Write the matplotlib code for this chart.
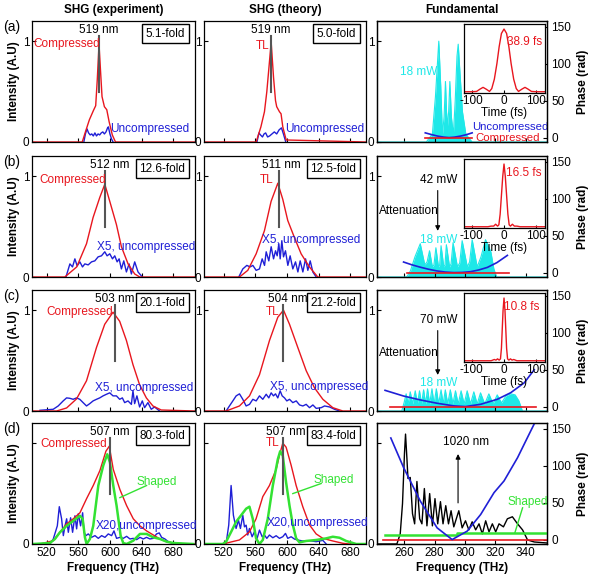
import numpy as np
import matplotlib.pyplot as plt

plt.rcParams['font.family'] = ['Liberation Sans', 'DejaVu Sans']
plt.rcParams['font.size'] = 8.5
plt.rcParams['axes.unicode_minus'] = False
plt.rcParams['xtick.direction'] = 'in'
plt.rcParams['ytick.direction'] = 'in'
plt.rcParams['axes.linewidth'] = 0.9

RED = '#e8161e'
BLUE = '#1f1fd6'
GREEN = '#33e233'
CYAN = '#1ee8e8'
GRAY = '#555555'

#====== SHG (experiment): compressed / uncompressed / shaped spectra ======
exp_comp_f = [
    [501, 565, 569, 574, 579, 582, 584, 586.2, 588, 590, 593, 596, 599, 603, 607, 707],
    [501, 543, 558, 570.4, 578.7, 587.2, 593.5, 599.8, 608.2, 614.5, 622.9, 631.3, 637.6, 707],
    [501, 532.6, 545.2, 557.8, 570.4, 583, 593.4, 603.9, 612.3, 620.8, 629.1, 637.5, 646, 654.3, 664.8, 707],
    [501, 511.6, 528.4, 536.8, 545.3, 553.7, 562.1, 570.5, 578.9, 587.4, 594.9, 599.2, 604.2, 612.6,
     621.1, 629.5, 637.9, 646.3, 654.7, 663.2, 671.6, 680, 696.8, 707]]
exp_comp_v = [
    [0, 0, 0.1, 0.22, 0.31, 0.36, 0.62, 0.97, 0.72, 0.45, 0.35, 0.32, 0.2, 0.07, 0, 0],
    [0, 0, 0.1, 0.33, 0.59, 0.79, 0.92, 0.75, 0.52, 0.3, 0.13, 0.03, 0, 0],
    [0, 0, 0.03, 0.12, 0.3, 0.63, 0.86, 0.98, 0.89, 0.7, 0.46, 0.26, 0.13, 0.05, 0.01, 0],
    [0, 0, 0.033, 0.116, 0.2, 0.25, 0.31, 0.45, 0.58, 0.73, 0.92, 0.97, 0.74, 0.54,
     0.38, 0.25, 0.18, 0.13, 0.09, 0.05, 0.023, 0.01, 0, 0]]
exp_unc_f = [
    [567, 569, 571, 573, 575, 577, 579, 581, 583, 585, 587, 589, 591, 593, 595, 597, 598, 600, 602, 604],
    [544.4, 549.4, 552.7, 555.7, 558.6, 562, 565.3, 568.3, 572.5, 576.7, 580.9, 585.1, 589.3, 593.5,
     596.4, 599.8, 603.2, 606.1, 609.1, 611.6, 614.5, 617.5, 620.8, 624.2, 627.1, 631.3, 635.5, 641],
    [511.6, 528.3, 534.6, 540.9, 545.2, 549.3, 553.5, 557.8, 561.9, 566.1, 570.4, 574.5, 578.7, 583,
     587.1, 591.3, 595.6, 599.7, 603.9, 608.2, 612.3, 615.7, 618.6, 622.8, 627.1, 629.1, 631.2, 634.1,
     637.5, 640.9, 643.8, 648, 652.2, 656.4, 662.7],
    [524.2, 528.4, 533.5, 536, 538.9, 541.1, 543.2, 545.3, 547.4, 550.3, 552.8, 555.8, 557.9, 560,
     562.9, 565.5, 567.2, 569.7, 572.6, 576.8, 581.1, 585.3, 589.5, 593.7, 597.9, 602.1, 605.1, 608.4,
     612.6, 616.8, 621.1, 625.3, 629.5, 633.7, 637.9, 642.1, 646.3, 650.5, 654.7, 658.9, 662.3, 665.3,
     669.5, 673.7, 677.9, 680]]
exp_unc_v = [
    [0, 0.08, 0.13, 0.09, 0.07, 0.08, 0.06, 0.09, 0.06, 0.08, 0.07, 0.09, 0.1, 0.08, 0.1, 0.14, 0.15, 0.08, 0.03, 0],
    [0, 0.13, 0.1, 0.18, 0.11, 0.15, 0.1, 0.13, 0.12, 0.15, 0.16, 0.2, 0.21, 0.25,
     0.21, 0.23, 0.18, 0.21, 0.15, 0.18, 0.08, 0.16, 0.05, 0.13, 0.03, 0.15, 0.05, 0],
    [0.007, 0.017, 0.05, 0.1, 0.13, 0.126, 0.116, 0.13, 0.116, 0.083, 0.05, 0.073, 0.1, 0.116,
     0.13, 0.15, 0.166, 0.18, 0.15, 0.15, 0.116, 0.13, 0.083, 0.1, 0.066, 0.2, 0.073, 0.15,
     0.04, 0.1, 0.033, 0.083, 0.017, 0.04, 0],
    [0, 0.05, 0.18, 0.37, 0.25, 0.083, 0.18, 0.25, 0.116, 0.26, 0.116, 0.28, 0.15, 0.3,
     0.18, 0.31, 0.116, 0.083, 0.1, 0.066, 0.083, 0.056, 0.083, 0.066, 0.1, 0.083, 0.13, 0.056,
     0.066, 0.056, 0.076, 0.05, 0.056, 0.043, 0.066, 0.05, 0.066, 0.05, 0.056, 0.1, 0.11, 0.066,
     0.05, 0.023, 0.01, 0]]
exp_shaped_f = [503.2, 524.2, 530.5, 536.8, 545.3, 553.7, 562.1, 565.5, 568.4, 570.5, 574.7, 578.9,
                585.3, 591.6, 596.6, 600, 604.2, 608.4, 613.5, 616.8, 621.1, 629.5, 637.9, 646.3,
                654.7, 663.2, 671.6, 680, 705.3]
exp_shaped_v = [0, 0.01, 0.05, 0.116, 0.18, 0.23, 0.28, 0.25, 0.066, 0, 0.05, 0.18,
                0.58, 0.78, 0.89, 0.81, 0.58, 0.38, 0.083, 0.01, 0, 0.033, 0.1, 0.1,
                0.066, 0.05, 0.023, 0.01, 0]

#====== SHG (theory) ======
th_tl_f = [
    [495, 561, 567, 571.5, 574.5, 580, 583, 585.5, 587, 590.5, 592.5, 594.7, 599, 700],
    [495, 539.9, 550.4, 561, 571.5, 579.9, 588.4, 594.7, 601, 609.5, 617.9, 628.4, 639, 700],
    [495, 523, 539.9, 552.6, 565.2, 577.9, 588.4, 595.6, 603.2, 613.7, 624.3, 634.8, 645.4, 658, 670.7, 700],
    [495, 518.7, 539.8, 552.5, 560.9, 569.4, 577.8, 586.3, 590.5, 594.7, 598.9, 605.3, 611.6, 620,
     628.5, 636.9, 645.4, 658, 670.7, 679.1, 700]]
th_tl_v = [
    [0, 0, 0.15, 0.3, 0.5, 0.99, 0.64, 0.41, 0.35, 0.3, 0.28, 0.15, 0.02, 0],
    [0, 0, 0.066, 0.23, 0.46, 0.75, 0.93, 0.77, 0.56, 0.39, 0.23, 0.1, 0, 0],
    [0, 0, 0.05, 0.15, 0.36, 0.7, 0.93, 1.0, 0.86, 0.63, 0.4, 0.23, 0.116, 0.033, 0, 0],
    [0, 0, 0.04, 0.12, 0.25, 0.47, 0.58, 0.74, 0.88, 1.0, 0.96, 0.78, 0.58, 0.37,
     0.19, 0.1, 0.056, 0.03, 0.007, 0, 0]]
th_unc_f = [
    [562, 564.5, 566.5, 569, 571, 573, 575.5, 578, 581, 584, 587, 590, 593, 595.5, 598.5],
    [539, 544.1, 549.2, 553.4, 556.8, 561, 565.2, 568.6, 571.6, 573.7, 577, 580, 583, 585.5, 587.6,
     589.7, 591.4, 593.5, 595.6, 598.1, 601.1, 604, 607.4, 610.8, 613.8, 616.7, 620.1, 623.5, 626.4,
     629.4, 632.7, 637],
    [523, 527.2, 531.5, 535.7, 539.9, 544.1, 548.3, 552.6, 556.8, 561, 565.2, 569.4, 573.7, 577, 580,
     582.9, 585.5, 588.4, 591.4, 593.9, 596.9, 599.8, 603.2, 607.4, 611.7, 615.9, 620.1, 624.3, 628.5,
     632.8, 637, 643.3, 647.6, 653.9, 660.2, 666.5],
    [523, 526.3, 529.3, 532.2, 535.6, 538.6, 541.1, 544.1, 546.2, 548.3, 550.4, 552.5, 555.9, 558.8,
     562.2, 565.2, 568.6, 571.5, 574.5, 577.8, 582.1, 586.3, 590.5, 594.7, 598.1, 601, 605.3, 609.5,
     613.7, 620, 628.5, 636.9, 645.4, 649.6]]
th_unc_v = [
    [0, 0.09, 0.07, 0.05, 0.08, 0.09, 0.05, 0.06, 0.08, 0.1, 0.08, 0.12, 0.14, 0.08, 0],
    [0, 0.08, 0.115, 0.1, 0.115, 0.066, 0.08, 0.18, 0.115, 0.25, 0.16, 0.3, 0.18, 0.26, 0.21,
     0.33, 0.18, 0.36, 0.2, 0.26, 0.115, 0.21, 0.08, 0.15, 0.05, 0.16, 0.05, 0.18, 0.066,
     0.16, 0.05, 0],
    [0, 0.05, 0.1, 0.15, 0.17, 0.116, 0.05, 0.066, 0.116, 0.1, 0.15, 0.116, 0.166, 0.13, 0.18,
     0.15, 0.17, 0.13, 0.2, 0.15, 0.13, 0.1, 0.116, 0.083, 0.1, 0.06, 0.05, 0.066, 0.033,
     0.06, 0.026, 0.033, 0.05, 0.04, 0.017, 0],
    [0.007, 0.187, 0.58, 0.285, 0.154, 0.236, 0.154, 0.285, 0.17, 0.187, 0.089, 0.154, 0.072, 0.121,
     0.056, 0.138, 0.072, 0.089, 0.056, 0.089, 0.062, 0.082, 0.056, 0.072, 0.105, 0.056, 0.072, 0.049,
     0.039, 0.03, 0.033, 0.023, 0.036, 0]]
th_shaped_f = [495, 518.7, 523, 529.3, 535.6, 542, 548.3, 552.5, 556.7, 560.9, 565.2, 569.4, 575.7,
               582.1, 588.4, 591.4, 594.7, 598.9, 603.2, 607.4, 611.6, 615.8, 624.3, 637, 649.6,
               658, 666.5, 674.9, 687.6, 700]
th_shaped_v = [0, 0, 0.023, 0.12, 0.22, 0.285, 0.35, 0.37, 0.25, 0.056, 0, 0.04, 0.25,
               0.58, 0.84, 0.92, 0.875, 0.61, 0.38, 0.19, 0.056, 0.016, 0.03, 0.04, 0.056,
               0.072, 0.062, 0.03, 0, 0]

#====== labels for SHG panels ======
peak_nm = [['519 nm', '519 nm'], ['512 nm', '511 nm'], ['503 nm', '504 nm'], ['507 nm', '507 nm']]
fold = [['5.1-fold', '5.0-fold'], ['12.6-fold', '12.5-fold'], ['20.1-fold', '21.2-fold'], ['80.3-fold', '83.4-fold']]
unc_lbl = ['Uncompressed', 'X5, uncompressed', 'X5, uncompressed', 'X20,uncompressed']
main_lbl = ['Compressed', 'TL']
peak_line_f = [[586.4, 580], [593.5, 589.7], [606, 595.6], [600, 594.7]]
peak_text_f = [[586.4, 580], [599.8, 592.6], [606, 601.1], [600, 598.9]]
main_xy = [[(545, 0.97), (569.4, 0.95)], [(552.8, 0.96), (573.7, 0.96)],
           [(562, 0.98), (582.1, 0.98)], [(554.5, 0.99), (582, 1.0)]]
unc_xy = [[(650, 0.13), (647.5, 0.13)], [(646, 0.3), (630.6, 0.37)],
          [(643.8, 0.23), (641.2, 0.24)], [(646.3, 0.18), (639, 0.21)]]

#====== Fundamental ======
fund_f = [
    [242, 274.5, 277, 278.5, 280.5, 282.7, 284, 285.1, 286.2, 287.1, 287.8, 288.4, 289.2, 290, 291,
     292.3, 293.5, 294.7, 295.5, 296.6, 298.3, 300.5, 302.5, 304.7, 354],
    [242, 261.6, 264, 267, 270.5, 273.5, 275, 276.6, 278.5, 279.5, 280.8, 282.5, 283.3, 284.2, 286,
     286.8, 287.7, 289.8, 290.8, 292.1, 295, 296.5, 298.1, 301.5, 303, 304.7, 308, 310.5, 313.5, 317,
     319, 320.8, 354],
    [242, 258.3, 259.8, 261.2, 262.5, 263.9, 265.5, 267.2, 268.6, 270.0, 271.3, 272.7, 274.0, 275.3,
     276.7, 278.2, 279.6, 281.1, 282.6, 284.2, 285.6, 287.0, 288.6, 290.3, 292.0, 293.7, 295.5, 297.4,
     299.4, 301.4, 303.6, 305.8, 308.0, 310.2, 313.0, 315.7, 318.5, 321.2, 324.0, 327.0, 330.0, 333.0,
     335.5, 337.8, 354]]
fund_v = [
    [0, 0, 0.05, 0.08, 0.45, 1.0, 0.55, 0.07, 0.25, 0.6, 0.3, 0.15, 0.3, 0.6, 0.25,
     0.07, 0.4, 0.85, 0.97, 0.7, 0.3, 0.08, 0.04, 0, 0],
    [0, 0, 0.06, 0.2, 0.33, 0.12, 0.15, 0.26, 0.1, 0.12, 0.29, 0.1, 0.12, 0.31, 0.1,
     0.12, 0.32, 0.1, 0.13, 0.34, 0.1, 0.14, 0.36, 0.1, 0.15, 0.37, 0.1, 0.2, 0.37, 0.25,
     0.08, 0, 0],
    [0, 0, 0.08, 0.17, 0.07, 0.19, 0.07, 0.2, 0.07, 0.2, 0.07, 0.21, 0.07, 0.22,
     0.07, 0.22, 0.07, 0.22, 0.07, 0.21, 0.07, 0.21, 0.07, 0.21, 0.07, 0.2, 0.07, 0.2,
     0.07, 0.2, 0.07, 0.19, 0.07, 0.18, 0.07, 0.17, 0.07, 0.16, 0.08, 0.15, 0.17, 0.16,
     0.1, 0, 0]]
spec_d_f = [242, 255.1, 257.3, 258.8, 260.1, 260.8, 261.7, 262.4, 263.9, 265.4, 266.8, 268.3, 270.1,
            271.6, 273.2, 274.9, 276.7, 278.5, 280.2, 282, 283.8, 285.5, 287.3, 289.1, 290.8, 292.6,
            295.9, 298.1, 300.3, 302.5, 304.7, 307, 309.2, 311.4, 313.6, 315.8, 318, 320.2, 322.4,
            325.3, 327.9, 331.2, 334.6, 337.9, 341.2, 345.6, 354]
spec_d_v = [0, 0, 0.1, 0.4, 0.9, 1.09, 0.85, 0.65, 0.66, 0.3, 0.2, 0.62, 0.25,
            0.2, 0.55, 0.18, 0.5, 0.18, 0.45, 0.2, 0.42, 0.2, 0.38, 0.2, 0.33, 0.17,
            0.33, 0.16, 0.23, 0.14, 0.22, 0.14, 0.2, 0.1, 0.23, 0.12, 0.2, 0.12, 0.2,
            0.17, 0.25, 0.27, 0.2, 0.14, 0.04, 0.02, 0.01]

phase_unc_f = [
    [273.8, 278, 282, 286, 289.5, 293, 297, 301, 304.7],
    [259.5, 265, 270.5, 276, 281.6, 287, 292.6, 298, 303.6, 309, 314.7, 321, 327.9],
    [247.3, 259.5, 270.5, 281.6, 292.6, 300.3, 310.3, 321.3, 330.1, 339, 345.6],
    [251.1, 259.5, 270.5, 281.6, 291.5, 301.4, 310.3, 319.1, 325.7, 334.6, 341.2, 347.8]]
phase_unc_v = [
    [6.4, 4, 2, 0.6, 0, 0.6, 2, 4, 6.4],
    [14.3, 10.5, 7.3, 4.5, 2.2, 0.7, 0, 0.2, 1.2, 3.5, 7, 13.5, 23.3],
    [22, 14.3, 9, 4.5, 0.9, 0, 3.1, 9.9, 18.8, 32.2, 50],
    [137.7, 97.7, 52.3, 15.9, 0, 11.4, 34, 63.6, 79.5, 111, 138.6, 166]]
phase_comp_f = [[273.8, 304.7], [261.7, 329], [250.6, 346.7], [246.2, 354.4]]
phase_comp_v = [[0, 0], [0, 0], [0, 0], [-1, -1]]
phase_shaped_f = [247.3, 294.4, 294.4, 354]
phase_shaped_v = [5.9, 5.9, 9.1, 9.1]

pulse_t = [
    [-127, -100, -85, -75, -65, -55, -45, -38, -30, -22, -15, -8, 0, 8, 15, 22, 30, 38, 45, 55, 65, 75, 85, 100, 127],
    [-127, -50, -40, -32, -26, -20, -16, -12, -8, -4, 0, 4, 8, 12, 16, 20, 26, 32, 40, 50, 127],
    [-127, -40, -30, -25, -20, -15, -11, -8, -5.5, -3, 0, 3, 5.5, 8, 11, 15, 20, 25, 30, 40, 127]]
pulse_v = [
    [0, 0, 0.005, 0.04, 0.07, 0.04, 0.005, 0.05, 0.2, 0.45, 0.72, 0.93, 1.0, 0.93, 0.72, 0.45, 0.2,
     0.05, 0.005, 0.04, 0.07, 0.04, 0.005, 0, 0],
    [0, 0, 0.01, 0.01, 0.04, 0.01, 0.03, 0.2, 0.5, 0.8, 1.0, 0.8, 0.5, 0.2, 0.03, 0.01, 0.04, 0.01, 0.01, 0, 0],
    [0, 0, 0.02, 0.01, 0.03, 0.01, 0.03, 0.2, 0.5, 0.8, 1.0, 0.8, 0.5, 0.2, 0.03, 0.01, 0.03, 0.01, 0.02, 0, 0]]
pulse_lbl = ['38.9 fs', '16.5 fs', '10.8 fs']
pulse_lbl_xy = [(64, 0.8), (61, 0.86), (54, 0.85)]
power_in = [None, '42 mW', '70 mW']
row_tags = ['(a)', '(b)', '(c)', '(d)']

#====== layout ======
W, H = 600., 582.
fig = plt.figure(figsize=(6, 5.82), dpi=100)
col_l = [32, 204, 377]
col_w = [163, 162, 170]
row_t = [21, 156, 290, 423]
row_h = 121
xlims = [(501.5, 707.5), (495, 700), (242, 354)]
xticks = [[520, 560, 600, 640, 680], [520, 560, 600, 640, 680], [260, 280, 300, 320, 340]]


def box(c, r):
    return [col_l[c] / W, 1 - (row_t[r] + row_h) / H, col_w[c] / W, row_h / H]


def style(ax, c, r):
    last = r == 3
    ax.set_xlim(*xlims[c])
    ax.set_ylim(0, 1.2)
    ax.set_xticks(xticks[c])
    ax.set_yticks([0, 1])
    ax.set_yticklabels(['0', ''] if last else ['0', '1'])
    ax.tick_params(length=3, width=0.8, labelsize=8.5, pad=2, labelbottom=last)
    if last:
        ax.set_xlabel('Frequency (THz)', fontweight='bold', labelpad=2)


titles = ['SHG (experiment)', 'SHG (theory)', 'Fundamental']
for c in range(3):
    fig.text((col_l[c] + col_w[c] / 2) / W, 1 - 10 / H, titles[c], ha='center', va='center',
             fontweight='bold', fontsize=8.5)

for r in range(4):
    fig.text(3 / W, 1 - (row_t[r] + 6) / H, row_tags[r], ha='left', va='center', fontsize=10)

    # ----- SHG columns -----
    for c in range(2):
        ax = fig.add_axes(box(c, r))
        style(ax, c, r)
        if c == 0:
            uf, uv, cf, cv = exp_unc_f[r], exp_unc_v[r], exp_comp_f[r], exp_comp_v[r]
            ax.set_ylabel('Intensity (A.U)', fontweight='bold', labelpad=2)
        else:
            uf, uv, cf, cv = th_unc_f[r], th_unc_v[r], th_tl_f[r], th_tl_v[r]
        ax.plot(uf, uv, color=BLUE, lw=1)
        ax.plot(cf, cv, color=RED, lw=1)
        if r == 3:
            sf, sv = (exp_shaped_f, exp_shaped_v) if c == 0 else (th_shaped_f, th_shaped_v)
            ax.plot(sf, sv, color=GREEN, lw=1.8)
            if c == 0:
                ax.plot([646.3, 612.6], [0.58, 0.46], color=GREEN, lw=1)
                ax.text(659, 0.61, 'Shaped', color=GREEN, ha='center', va='center')
            else:
                ax.plot([643.3, 607.4], [0.6, 0.5], color=GREEN, lw=1)
                ax.text(658.9, 0.63, 'Shaped', color=GREEN, ha='center', va='center')
        pf = peak_line_f[r][c]
        ax.plot([pf, pf], [0.5, 1.05], color=GRAY, lw=1.5)
        ax.text(peak_text_f[r][c], 1.115, peak_nm[r][c], ha='center', va='center')
        mx, my = main_xy[r][c]
        ax.text(mx, my, main_lbl[c], color=RED, ha='center', va='center')
        ux, uy = unc_xy[r][c]
        ax.text(ux, uy, unc_lbl[r], color=BLUE, ha='center', va='center')
        ax.text(0.94, 0.945, fold[r][c], transform=ax.transAxes, ha='right', va='top',
                bbox=dict(boxstyle='square,pad=0.3', fc='white', ec='black', lw=1))

    # ----- Fundamental column -----
    ax = fig.add_axes(box(2, r))
    style(ax, 2, r)
    axp = ax.twinx()
    axp.set_ylim(-6, 158)
    axp.set_yticks([0, 50, 100, 150])
    axp.tick_params(length=3, width=0.8, labelsize=8.5, pad=3)
    axp.set_ylabel('Phase (rad)', fontweight='bold', labelpad=4)

    if r < 3:
        ax.fill_between(fund_f[r], fund_v[r], 0, color=CYAN, lw=0)
        ax.plot(fund_f[r], fund_v[r], color=CYAN, lw=0.8)
        axp.plot(phase_unc_f[r], phase_unc_v[r], color=BLUE, lw=1.2)
        axp.plot(phase_comp_f[r], phase_comp_v[r], color=RED, lw=1.2)
        if r == 0:
            ax.text(269.4, 0.69, '18 mW', color=CYAN, ha='center', va='center')
            ax.text(330.1, 0.15, 'Uncompressed', color=BLUE, ha='center', va='center', fontsize=8.2)
            ax.text(327.9, 0.04, 'Compressed', color=RED, ha='center', va='center', fontsize=8.2)
        else:
            top = [0.96, 0.90][r - 1]
            ax.text(282.6, top, power_in[r], ha='center', va='center')
            ax.text(262.7, [0.656, 0.58][r - 1], 'Attenuation', ha='center', va='center')
            ax.text(282.6, [0.37, 0.28][r - 1], '18 mW', color=CYAN, ha='center', va='center')
            ax.annotate('', xy=(282, [0.43, 0.33][r - 1]), xytext=(282, top - 0.075),
                        arrowprops=dict(arrowstyle='-|>', color='k', lw=0.8, mutation_scale=7))
        ins = axp.inset_axes([0.51, 0.405, 0.48, 0.57])
        ins.set_facecolor('white')
        ins.plot(pulse_t[r], pulse_v[r], color=RED, lw=1)
        ins.set_xlim(-125, 128)
        ins.set_ylim(-0.02, 1.08)
        ins.set_xticks([-100, 0, 100])
        ins.set_yticks([])
        ins.tick_params(length=2.5, width=0.8, labelsize=8.5, pad=1.5)
        ins.set_xlabel('Time (fs)', labelpad=0)
        for s in ins.spines.values():
            s.set_linewidth(0.9)
        lx, ly = pulse_lbl_xy[r]
        ins.text(lx, ly, pulse_lbl[r], color=RED, ha='center', va='center')
    else:
        ax.plot(spec_d_f, spec_d_v, color='black', lw=1)
        ax.annotate('', xy=(295.4, 0.92), xytext=(295.4, 0.38),
                    arrowprops=dict(arrowstyle='-|>', color='k', lw=0.8, mutation_scale=7))
        ax.text(300.5, 1.01, '1020 nm', ha='center', va='center')
        axp.plot(phase_comp_f[r], phase_comp_v[r], color=RED, lw=1.2)
        axp.plot(phase_shaped_f, phase_shaped_v, color=GREEN, lw=1.8)
        axp.plot(phase_unc_f[r], phase_unc_v[r], color=BLUE, lw=1.2)
        axp.plot([337.9, 332.8], [43, 9], color=GREEN, lw=1)
        axp.text(341.6, 51, 'Shaped', color=GREEN, ha='center', va='center')

fig.savefig('out.png', dpi=100)
